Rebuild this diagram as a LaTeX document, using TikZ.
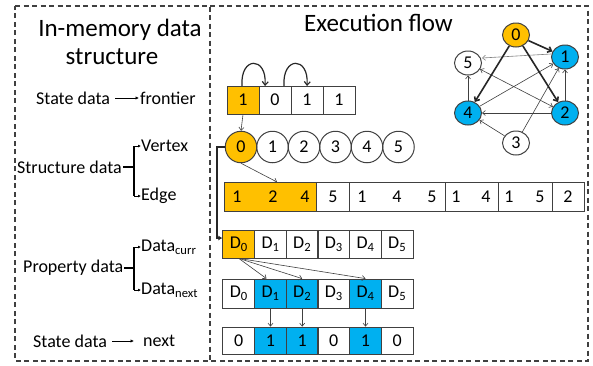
\documentclass[tikz,border=0pt]{standalone}
\usepackage{fontspec}
\setmainfont{Carlito}
\usetikzlibrary{arrows.meta,shapes.geometric}
\definecolor{orng}{HTML}{FFC000}
\definecolor{blu}{HTML}{00B0F0}
\definecolor{dk}{HTML}{404040}
\newcommand\fsBig{\fontsize{25}{30}\selectfont}
\newcommand\fsMid{\fontsize{18}{21}\selectfont}
\begin{document}
\begin{tikzpicture}[x=1pt,y=-1pt,
  dashbox/.style={draw=dk, line width=1.3pt, dash pattern=on 5pt off 3.5pt},
  lbl/.style={font=\fsMid, inner sep=0pt, anchor=west},
  larrow/.style={line width=0.9pt, -{Latex[length=3.5pt,width=3.5pt]}},
  brk/.style={line width=1.1pt, draw=black},
  brkarrow/.style={line width=0.8pt, -{Latex[length=3pt,width=3pt]}},
  cell/.style={draw=dk, line width=0.8pt, font=\fsMid, inner sep=0pt, minimum height=28pt, minimum width=32pt},
  num/.style={font=\fsMid, inner sep=0pt},
  vcirc/.style={circle, draw=dk, line width=1pt, minimum size=31.5pt, inner sep=0pt, font=\fsMid},
  gnode/.style={ellipse, draw=dk, line width=1pt, minimum width=27pt, minimum height=24pt, inner sep=0pt, font=\fsMid},
  thin/.style={draw=dk, line width=0.6pt, -{Straight Barb[length=3pt,width=5pt]}},
  thick/.style={draw=black!85, line width=1.6pt, -{Straight Barb[length=3.5pt,width=6pt]}},
  tharrow/.style={draw=dk, line width=0.6pt, -{Straight Barb[length=3pt,width=5pt]}},
  curv/.style={draw=black!85, line width=1.2pt, -{Straight Barb[length=3.5pt,width=6pt]}}
]
\useasboundingbox (0,0) rectangle (593,365);
\fill[white] (0,0) rectangle (593,365);
% boxes
\draw[dashbox] (15,6) -- (210,6) -- (210,361) -- (15,361) -- cycle;
\draw[dashbox] (210,6) -- (588,6) -- (588,361) -- (210,361);

% left titles
\node[font=\fsBig, inner sep=0pt, anchor=base] (ttl1) at (120,36) {In-memory data};
\node[font=\fsBig, inner sep=0pt, anchor=base] (ttl2) at (112,64) {structure};
\node[font=\fsBig, inner sep=0pt, anchor=base west] (ttl3) at (304,31) {Execution flow};

% left labels
\node[lbl] (sd1) at (36,98) {State data};
\node[lbl] (fr) at (140,98) {frontier};
\draw[larrow] ([xshift=5pt]sd1.east) -- ([xshift=-1pt]fr.west);

\node[lbl] (strd) at (17,167) {Structure data};
\node[lbl] (vx) at (141,146) {Vertex};
\node[lbl] (ed) at (141,196) {Edge};
\coordinate (bs) at (134,167);
\draw[brk] ([xshift=1pt]strd.east) -- (bs);
\draw[brk] (134,146) -- (134,196);
\draw[brkarrow] (134,146) -- (vx.west);
\draw[brkarrow] (134,196) -- (ed.west);

\node[lbl] (prd) at (23,268) {Property data};
\node[lbl] (dcur) at (141,247) {Data\textsubscript{curr}};
\node[lbl] (dnxt) at (141,290) {Data\textsubscript{next}};
\coordinate (bp) at (134,268);
\draw[brk] ([xshift=1pt]prd.east) -- (bp);
\draw[brk] (134,247) -- (134,290);
\draw[brkarrow] (134,247) -- (dcur.west);
\draw[brkarrow] (134,290) -- (dnxt.west);

\node[lbl] (sd2) at (33,341) {State data};
\node[lbl] (nx) at (143,341) {next};
\draw[larrow] ([xshift=5pt]sd2.east) -- ([xshift=-9pt]nx.west);

% frontier
\node[cell, fill=orng] (f0) at (243,100) {1};
\node[cell] (f1) at (275,100) {0};
\node[cell] (f2) at (307,100) {1};
\node[cell] (f3) at (339,100) {1};
\draw[curv] (242,86) .. controls (240,56) and (267,56) .. (265,86);
\draw[curv] (284,86) .. controls (282,56) and (309,56) .. (307,86);

% vertices
\node[vcirc, fill=orng] (v0) at (241,147) {0};
\node[vcirc] (v1) at (272.5,147) {1};
\node[vcirc] (v2) at (304,147) {2};
\node[vcirc] (v3) at (335.5,147) {3};
\node[vcirc] (v4) at (367,147) {4};
\node[vcirc] (v5) at (398.5,147) {5};
\draw[tharrow] (f0.south) -- (v0.north);

% edge array
\node[cell, fill=orng, minimum width=92.4pt, minimum height=29pt] (e0) at (270.5,196.5) {};
\node[cell, minimum width=32.6pt, minimum height=29pt] (e1) at (333,196.5) {};
\node[cell, minimum width=95.7pt, minimum height=29pt] (e2) at (397.15,196.5) {};
\node[cell, minimum width=53.7pt, minimum height=29pt] (e3) at (471.85,196.5) {};
\node[cell, minimum width=54pt, minimum height=29pt] (e4) at (525.7,196.5) {};
\node[cell, minimum width=32pt, minimum height=29pt] (e5) at (568.7,196.5) {};
\node[num] (n0) at (237,197) {1};
\node[num] (n1) at (273,197) {2};
\node[num] (n2) at (305,197) {4};
\node[num] (n3) at (333,197) {5};
\node[num] (n4) at (362,197) {1};
\node[num] (n5) at (397,197) {4};
\node[num] (n6) at (432,197) {5};
\node[num] (n7) at (456,197) {1};
\node[num] (n8) at (486,197) {4};
\node[num] (n9) at (509,197) {1};
\node[num] (n10) at (540,197) {5};
\node[num] (n11) at (568,197) {2};
\coordinate (etip) at (277,182);
\draw[tharrow] (v0.south) -- (etip);

% data curr
\node[cell, fill=orng] (c0) at (238.8,244) {D\textsubscript{0}};
\node[cell] (c1) at (270.5,244) {D\textsubscript{1}};
\node[cell] (c2) at (302.2,244) {D\textsubscript{2}};
\node[cell] (c3) at (333.8,244) {D\textsubscript{3}};
\node[cell] (c4) at (365.5,244) {D\textsubscript{4}};
\node[cell] (c5) at (397.2,244) {D\textsubscript{5}};
% data next
\node[cell, minimum height=29pt] (d0) at (238.8,293.5) {D\textsubscript{0}};
\node[cell, minimum height=29pt, fill=blu] (d1) at (270.5,293.5) {D\textsubscript{1}};
\node[cell, minimum height=29pt, fill=blu] (d2) at (302.2,293.5) {D\textsubscript{2}};
\node[cell, minimum height=29pt] (d3) at (333.8,293.5) {D\textsubscript{3}};
\node[cell, minimum height=29pt, fill=blu] (d4) at (365.5,293.5) {D\textsubscript{4}};
\node[cell, minimum height=29pt] (d5) at (397.2,293.5) {D\textsubscript{5}};
% next
\node[cell, minimum height=27pt] (s0) at (238.8,340.5) {0};
\node[cell, minimum height=27pt, fill=blu] (s1) at (270.5,340.5) {1};
\node[cell, minimum height=27pt, fill=blu] (s2) at (302.2,340.5) {1};
\node[cell, minimum height=27pt] (s3) at (333.8,340.5) {0};
\node[cell, minimum height=27pt, fill=blu] (s4) at (365.5,340.5) {1};
\node[cell, minimum height=27pt] (s5) at (397.2,340.5) {0};

\draw[tharrow] (c0.south) -- ([xshift=-4pt]d1.north);
\draw[tharrow] (c0.south) -- (d2.north);
\draw[tharrow] (c0.south) -- (d4.north);
\draw[tharrow] (d1.south) -- (s1.north);
\draw[tharrow] (d2.south) -- (s2.north);
\draw[tharrow] (d4.south) -- (s4.north);

% thick bracket
\draw[line width=2.6pt, draw=black!85, -{Latex[length=4pt,width=5pt]}] (v0.west) -- (217,147) -- (217,238) -- ([yshift=6pt]c0.west);

% graph
\node[gnode, fill=orng] (g0) at (516,35) {0};
\node[gnode, fill=blu] (g1) at (565,57) {1};
\node[gnode, fill=blu] (g2) at (565,113) {2};
\node[gnode] (g3) at (516,143) {3};
\node[gnode, fill=blu] (g4) at (468,113) {4};
\node[gnode] (g5) at (468,63) {5};
\draw[thin, draw=gray] ([yshift=3pt]g1.west) -- ([yshift=5pt]g5.east);
\draw[thin] (g2) -- (g1);
\draw[thin] (g2) -- (g4);
\draw[thin, {Straight Barb[length=3pt,width=5pt]}-{Straight Barb[length=3pt,width=5pt]}] (g5) -- (g2);
\draw[thin] (g3) -- (g1);
\draw[thin] (g3) -- (g4);
\draw[thin] (g4) -- (g1);
\draw[thin] (g4) -- (g5);
\draw[thick] (g0) -- (g1);
\draw[thick] (g0) -- (g2);
\draw[thick] (g0) -- (g4);
\end{tikzpicture}
\end{document}
